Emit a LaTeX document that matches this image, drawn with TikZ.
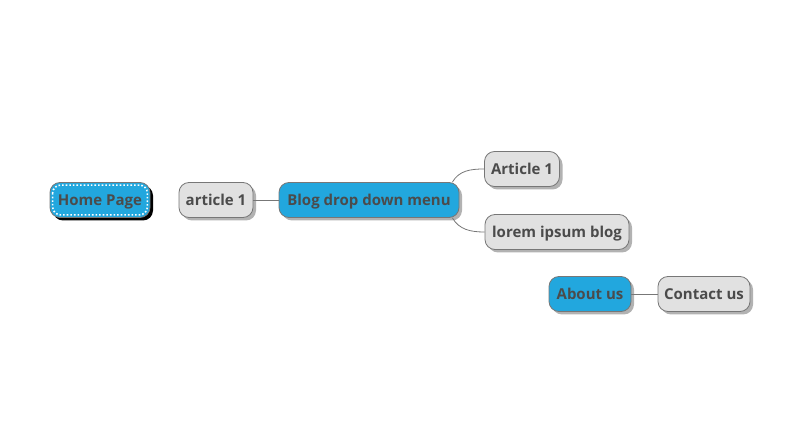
\documentclass[tikz,border=0pt]{standalone}
\usepackage{fontspec}
\setmainfont{Open Sans}
\usetikzlibrary{shadows}

\definecolor{menublue}{HTML}{22A7DE}
\definecolor{leafgray}{HTML}{E1E1E1}
\definecolor{edgegray}{HTML}{777777}
\definecolor{textgray}{HTML}{4B4B4B}

\begin{document}
\begin{tikzpicture}[x=1pt, y=1pt,
    every node/.style={rounded corners=10pt, draw=edgegray, thick, minimum height=35pt,
      inner xsep=6pt, text height=11pt, text depth=0pt, text=textgray,
      font=\fontsize{15}{17}\selectfont\bfseries},
    topic/.style={fill=menublue, drop shadow={shadow xshift=3pt, shadow yshift=-3pt, fill=black, opacity=0.3}},
    leaf/.style={fill=leafgray, drop shadow={shadow xshift=3pt, shadow yshift=-3pt, fill=black, opacity=0.3}},
    link/.style={draw=edgegray, thick}]
    \useasboundingbox (0,0) rectangle (793,426);
    % Home page, separate topic with dotted rim
    \node[fill=menublue, minimum width=100pt, drop shadow={shadow xshift=3pt, shadow yshift=-3pt, fill=black, opacity=1}] (home) at (100,226) {Home Page};
    \draw[white, dotted, line width=1.6pt, rounded corners=8pt] ([shift={(3,-3)}]home.north west) rectangle ([shift={(-3,3)}]home.south east);

    % Blog branch
    \node[leaf, minimum width=74pt] (art) at (216,226) {article 1};
    \node[topic, minimum width=180pt] (blog) at (369,226) {Blog drop down menu};
    \node[leaf, minimum width=75pt] (arta) at (522,257) {Article 1};
    \node[leaf, minimum width=144pt] (lorem) at (557,194) {lorem ipsum blog};

    % About branch
    \node[topic, minimum width=82pt] (about) at (590,132) {About us};
    \node[leaf, minimum width=92pt] (contact) at (704,132) {Contact us};

    \draw[link] (art) -- (blog);
    \draw[link] ([shift={(-7,0)}]blog.north east) to[out=60, in=180] (arta.west);
    \draw[link] ([shift={(-7,0)}]blog.south east) to[out=-60, in=180] (lorem.west);
    \draw[link] (about) -- (contact);
\end{tikzpicture}
\end{document}
